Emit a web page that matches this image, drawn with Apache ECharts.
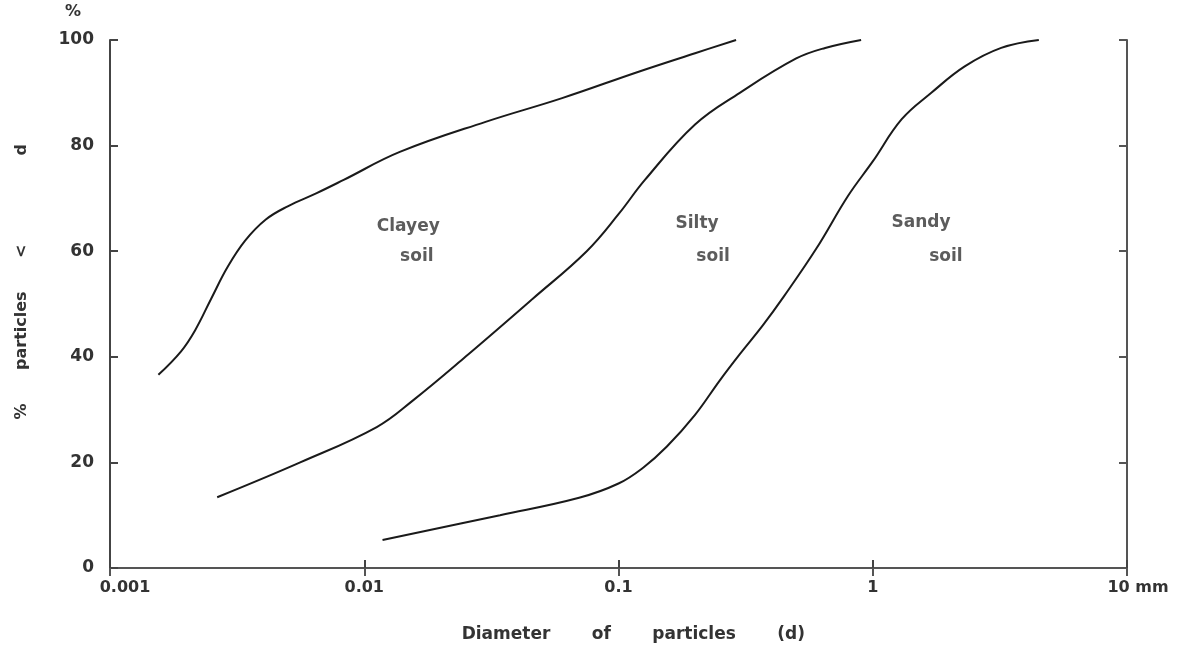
<!DOCTYPE html>
<html>
<head>
<meta charset="utf-8">
<script src="https://cdn.jsdelivr.net/npm/echarts@6/dist/echarts.min.js"></script>
<style>
html,body{margin:0;padding:0;background:#fff;}
#chart{width:1199px;height:651px;}
</style>
</head>
<body>
<div id="chart"></div>
<script>
// Diameter (mm) and % particles < d for each soil curve
const clayeyD   = [0.00155, 0.0019, 0.00216, 0.0025, 0.0029, 0.0034, 0.0041, 0.005, 0.0065, 0.0083, 0.0138, 0.03, 0.06, 0.12, 0.2, 0.29];
const clayeyPct = [36.6,    41,     45,      51,     57,     62,     66,     68.5,  71,     73.5,   78.8,   84.5, 89,   94,   97.5, 100];

const siltyD   = [0.00264, 0.0056, 0.0112, 0.0156, 0.025, 0.046, 0.075, 0.1,  0.127, 0.2, 0.3, 0.5,  0.65, 0.9];
const siltyPct = [13.4,    20,     26.7,   31.8,   40,    51,    60,    67,   73.5,  84,  90,  96.5, 98.5, 100];

const sandyD   = [0.0118, 0.0342, 0.07, 0.1, 0.125, 0.155, 0.2, 0.25, 0.3,  0.37, 0.448, 0.6,  0.8,  1.0, 1.3, 1.7, 2.3, 3.2,  4.5];
const sandyPct = [5.3,    10,     13.3, 16,  19,    23,    29,  35.5, 40.5, 46,   51.5,  60.5, 70.5, 77,  85,  90,  95,  98.5, 100];

const xTicks = [0.001, 0.01, 0.1, 1, 10];
const yTicks = [0, 20, 40, 60, 80, 100];

const annotText = ['Clayey', 'soil', 'Silty', 'soil', 'Sandy', 'soil'];
const annotD    = [0.0149, 0.0161, 0.2037, 0.2355, 1.549, 1.94];
const annotPct  = [64.6, 58.9, 65.3, 58.9, 65.5, 58.9];

const zip = (a, b) => a.map((v, i) => [v, b[i]]);
const txt = '#333';
const font = 'DejaVu Sans';
const nb = n => '\u00a0'.repeat(n);

const lineSeries = (name, d, p) => ({
  name, type: 'line', xAxisIndex: 0, yAxisIndex: 0,
  data: zip(d, p), smooth: 0.4, symbol: 'none',
  lineStyle: { color: '#1a1a1a', width: 2 }
});

const chart = echarts.init(document.getElementById('chart'));
chart.setOption({
  animation: false,
  backgroundColor: '#fff',
  grid: { left: 110, right: 72, top: 40, bottom: 83 },
  xAxis: [
    {
      type: 'log', logBase: 10, min: xTicks[0], max: xTicks[xTicks.length - 1],
      position: 'bottom',
      axisLine: { lineStyle: { color: '#444', width: 2 } },
      axisTick: { inside: true, length: 8, lineStyle: { color: '#444', width: 2 } },
      minorTick: { show: false },
      splitLine: { show: false },
      axisLabel: {
        color: txt, fontFamily: font, fontSize: 16, fontWeight: 'bold', margin: 12,
        formatter: v => {
          if (Math.abs(v - 10) < 1e-9) return '{r|10 mm}';
          if (Math.abs(v - 0.001) < 1e-9) return '{s|0.001}';
          return String(v);
        },
        rich: {
          r: { padding: [0, 0, 0, 22], fontFamily: font, fontSize: 16, fontWeight: 'bold', color: txt },
          s: { padding: [0, 0, 0, 30], fontFamily: font, fontSize: 16, fontWeight: 'bold', color: txt }
        }
      },
      name: nb(5) + 'Diameter' + nb(7) + 'of' + nb(7) + 'particles' + nb(7) + '(d)',
      nameLocation: 'middle', nameGap: 58,
      nameTextStyle: { color: txt, fontFamily: font, fontSize: 17, fontWeight: 'bold' }
    },
    {
      type: 'log', logBase: 10, min: xTicks[0], max: xTicks[xTicks.length - 1],
      position: 'top',
      axisLine: { lineStyle: { color: '#555', width: 2 } },
      axisTick: { inside: true, length: 8, lineStyle: { color: '#555', width: 2 } },
      axisLabel: { show: false },
      splitLine: { show: false }
    }
  ],
  yAxis: [
    {
      type: 'value', min: yTicks[0], max: yTicks[yTicks.length - 1], interval: 20, position: 'left',
      axisLine: { show: true, lineStyle: { color: '#444', width: 2 } },
      axisTick: { show: true, inside: true, length: 8, lineStyle: { color: '#444', width: 2 } },
      splitLine: { show: false },
      axisLabel: { color: txt, fontFamily: font, fontSize: 17, fontWeight: 'bold', margin: 16 },
      name: nb(8) + '%' + nb(6) + 'particles' + nb(6) + '<' + nb(16) + 'd',
      nameLocation: 'middle', nameRotate: 90, nameGap: 80,
      nameTextStyle: { color: txt, fontFamily: font, fontSize: 16, fontWeight: 'bold' }
    },
    {
      type: 'value', min: yTicks[0], max: yTicks[yTicks.length - 1], interval: 20, position: 'right',
      axisLine: { show: true, lineStyle: { color: '#555', width: 2 } },
      axisTick: { show: true, inside: true, length: 8, lineStyle: { color: '#555', width: 2 } },
      splitLine: { show: false },
      axisLabel: { show: false }
    }
  ],
  graphic: [
    { type: 'text', left: 65, top: 4, style: { text: '%', fill: txt, font: 'bold 16px "DejaVu Sans"' } }
  ],
  series: [
    lineSeries('Clayey', clayeyD, clayeyPct),
    lineSeries('Silty', siltyD, siltyPct),
    lineSeries('Sandy', sandyD, sandyPct),
    {
      type: 'scatter', symbolSize: 0, silent: true,
      data: annotD.map((d, i) => ({ value: [d, annotPct[i]], name: annotText[i] })),
      label: {
        show: true, position: 'inside', formatter: p => p.name,
        color: txt, fontFamily: font, fontSize: 17, fontWeight: 'bold'
      }
    }
  ]
});
</script>
</body>
</html>
